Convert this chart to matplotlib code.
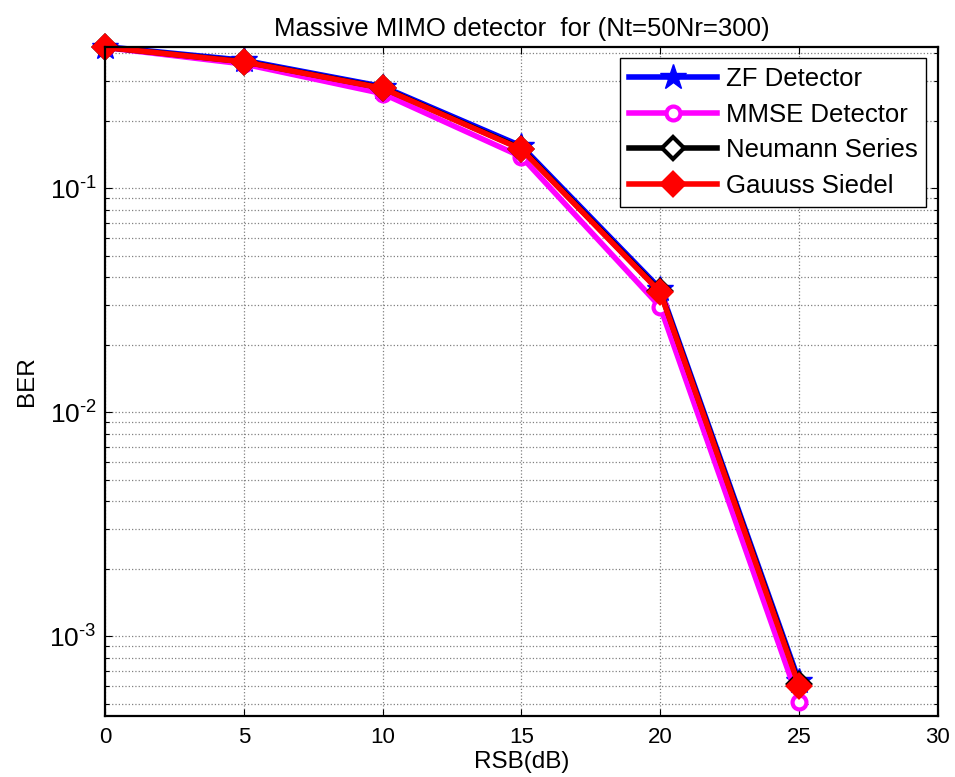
import numpy as np
import matplotlib as mpl
mpl.use('Agg')
import matplotlib.pyplot as plt
import matplotlib.ticker as ticker

mpl.rc('font', family='Liberation Sans', size=16)
mpl.rc('mathtext', fontset='custom', rm='Liberation Sans', it='Liberation Sans', default='regular')
mpl.rc('xtick', direction='in', top=True, labelsize=16)
mpl.rc('ytick', direction='in', right=True, labelsize=19)
mpl.rc('xtick.major', size=5, width=0.8, pad=8)
mpl.rc('ytick.major', size=5, width=0.8, pad=6)
mpl.rc('ytick.minor', size=3, width=0.8)

# --- data ---
snr = [0, 5, 10, 15, 20, 25]
ber_zf = [0.428, 0.372, 0.284, 0.154, 0.0355, 0.00063]
ber_mmse = [0.424, 0.358, 0.264, 0.138, 0.0295, 0.00051]
ber_neumann = [0.425, 0.367, 0.280, 0.150, 0.0346, 0.00061]
ber_gs = [0.425, 0.366, 0.279, 0.149, 0.0343, 0.00060]

fig = plt.figure(figsize=(9.55, 7.77), dpi=100)
ax = fig.add_axes([0.110, 0.0785, 0.872, 0.8615])

lw = 4.0
ax.semilogy(snr, ber_zf, '-*', color='b', lw=lw, ms=19, mfc='b', mec='b',
            clip_on=False, label='ZF Detector')
ax.semilogy(snr, ber_mmse, '-o', color='#ff00ff', lw=lw, ms=10, mfc='w', mec='#ff00ff',
            mew=3, clip_on=False, label='MMSE Detector')
ax.semilogy(snr, ber_neumann, '-D', color='k', lw=lw, ms=11, mfc='w', mec='k', mew=3,
            clip_on=False, label='Neumann Series')
ax.semilogy(snr, ber_gs, '-D', color='r', lw=lw, ms=11, mfc='r', mec='r', mew=3,
            clip_on=False, label='Gauuss Siedel')

ax.set_xlim(0, 30)
ax.set_ylim(4.4e-4, 0.428)
ax.xaxis.set_major_locator(ticker.MultipleLocator(5))
ax.yaxis.set_major_locator(ticker.LogLocator(base=10))
ax.yaxis.set_major_formatter(ticker.FuncFormatter(
    lambda v, p: r'$10^{\text{%d}}$' % int(round(np.log10(v)))))
ax.yaxis.set_minor_locator(ticker.LogLocator(base=10, subs=np.arange(2, 10)))
ax.yaxis.set_minor_formatter(ticker.NullFormatter())

ax.grid(True, which='major', color='#808080', linestyle=':', linewidth=0.9)
ax.grid(True, which='minor', axis='y', color='#808080', linestyle=':', linewidth=0.9)
for s in ax.spines.values():
    s.set_linewidth(1.6)

ax.set_xlabel('RSB(dB)', fontsize=17.5, labelpad=2)
ax.set_ylabel('BER', fontsize=17.5, labelpad=8)
ax.set_title('Massive MIMO detector  for (Nt=50Nr=300)', fontsize=18.5, pad=8)

leg = ax.legend(loc='upper right', fontsize=18.5, fancybox=False, edgecolor='k',
                framealpha=1, handlelength=3.4, handletextpad=0.35,
                borderaxespad=0.45, labelspacing=0.45, borderpad=0.35)
leg.get_frame().set_linewidth(1.0)

fig.savefig('out.png', dpi=100)
